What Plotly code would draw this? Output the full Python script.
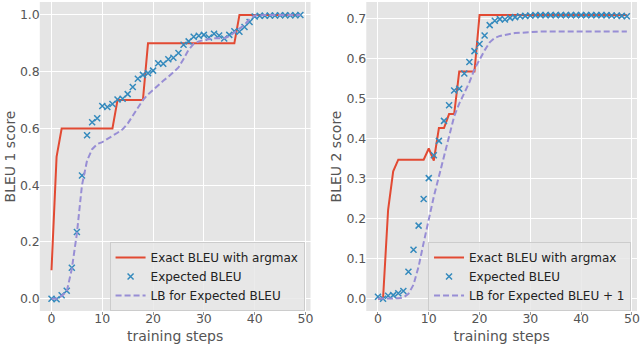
import plotly.graph_objects as go
from plotly.subplots import make_subplots

steps = list(range(50))

left_exact = [0.1, 0.5, 0.6, 0.6, 0.6, 0.6, 0.6, 0.6, 0.6, 0.6,
              0.6, 0.6, 0.6, 0.7, 0.7, 0.7, 0.7, 0.7, 0.7, 0.9,
              0.9, 0.9, 0.9, 0.9, 0.9, 0.9, 0.9, 0.9, 0.9, 0.9,
              0.9, 0.9, 0.9, 0.9, 0.9, 0.9, 0.9, 1.0, 1.0, 1.0,
              1.0, 1.0, 1.0, 1.0, 1.0, 1.0, 1.0, 1.0, 1.0, 1.0]
left_expected = [0.0, -0.002, 0.012, 0.028, 0.109, 0.235, 0.434, 0.576, 0.622, 0.636,
                 0.679, 0.676, 0.686, 0.702, 0.705, 0.721, 0.746, 0.775, 0.789, 0.795,
                 0.804, 0.830, 0.828, 0.844, 0.849, 0.866, 0.895, 0.907, 0.923, 0.927,
                 0.930, 0.921, 0.934, 0.928, 0.917, 0.930, 0.943, 0.941, 0.958, 0.975,
                 0.995, 0.997, 0.997, 0.998, 0.998, 0.999, 0.999, 0.999, 0.999, 1.0]
left_lb = [0.0, 0.0, 0.01, 0.025, 0.105, 0.23, 0.40, 0.487, 0.527, 0.545,
           0.552, 0.562, 0.573, 0.585, 0.597, 0.617, 0.645, 0.672, 0.700, 0.720,
           0.737, 0.752, 0.768, 0.782, 0.800, 0.815, 0.845, 0.878, 0.898, 0.907,
           0.912, 0.916, 0.918, 0.918, 0.918, 0.925, 0.940, 0.952, 0.965, 0.985,
           0.998, 1.0, 1.0, 1.0, 1.0, 1.0, 1.0, 1.0, 1.0, 1.0]

right_exact = [0.0, 0.0, 0.222, 0.318, 0.347, 0.347, 0.347, 0.347, 0.347, 0.347,
               0.375, 0.345, 0.426, 0.426, 0.461, 0.461, 0.567, 0.567, 0.567, 0.567,
               0.708, 0.708, 0.708, 0.708, 0.708, 0.708, 0.708, 0.708, 0.708, 0.708,
               0.708, 0.708, 0.708, 0.708, 0.708, 0.708, 0.708, 0.708, 0.708, 0.708,
               0.708, 0.708, 0.708, 0.708, 0.708, 0.708, 0.708, 0.708, 0.708, 0.708]
right_expected = [0.005, 0.0, 0.0075, 0.009, 0.0135, 0.019, 0.0675, 0.122, 0.1825, 0.249,
                  0.301, 0.358, 0.394, 0.444, 0.483, 0.520, 0.524, 0.562, 0.591, 0.618,
                  0.636, 0.657, 0.683, 0.694, 0.698, 0.697, 0.701, 0.703, 0.705, 0.706,
                  0.707, 0.708, 0.708, 0.708, 0.708, 0.708, 0.708, 0.708, 0.708, 0.708,
                  0.708, 0.708, 0.708, 0.708, 0.708, 0.708, 0.707, 0.707, 0.706, 0.705]
right_lb = [0.0, 0.0, 0.0, 0.0, 0.001, 0.003, 0.012, 0.035, 0.08, 0.14,
            0.2, 0.255, 0.305, 0.355, 0.41, 0.455, 0.487, 0.515, 0.54, 0.573,
            0.597, 0.62, 0.64, 0.651, 0.656, 0.659, 0.661, 0.663, 0.664, 0.665,
            0.666, 0.667, 0.667, 0.667, 0.667, 0.667, 0.667, 0.667, 0.667, 0.667,
            0.667, 0.667, 0.667, 0.667, 0.667, 0.667, 0.667, 0.667, 0.667, 0.667]

left_ticks_y = [0.0, 0.2, 0.4, 0.6, 0.8, 1.0]
right_ticks_y = [0.0, 0.1, 0.2, 0.3, 0.4, 0.5, 0.6, 0.7]
x_ticks = [0, 10, 20, 30, 40, 50]

RED = "#E24A33"
BLUE = "#348ABD"
PURPLE = "#988ED5"
FONT = "DejaVu Sans"

fig = make_subplots(rows=1, cols=2)

def add_series(col, exact, expected, lb, lb_name, legend):
    fig.add_trace(go.Scatter(x=steps, y=exact, mode="lines", name="Exact BLEU with argmax",
                             line=dict(color=RED, width=2), legend=legend), row=1, col=col)
    fig.add_trace(go.Scatter(x=steps, y=expected, mode="markers", name="Expected BLEU",
                             marker=dict(symbol="x-thin", size=6, color=BLUE,
                                         line=dict(color=BLUE, width=1.5)), legend=legend), row=1, col=col)
    fig.add_trace(go.Scatter(x=steps, y=lb, mode="lines", name=lb_name,
                             line=dict(color=PURPLE, width=2, dash="6px,3px"), legend=legend), row=1, col=col)

add_series(1, left_exact, left_expected, left_lb, "LB for Expected BLEU", "legend")
add_series(2, right_exact, right_expected, right_lb, "LB for Expected BLEU + 1", "legend2")

H = 346.0
ydom = [1 - 311 / H, 1 - 2 / H]
axis_common = dict(showgrid=True, gridcolor="white", gridwidth=1.2, zeroline=False,
                   showline=False, ticklabeloverflow="allow",
                   tickfont=dict(family=FONT, size=12.5, color="#555555"))
title_font = dict(family=FONT, size=14, color="#555555")

fig.update_xaxes(**axis_common, ticks="outside", ticklen=3, tickcolor="#999999",
                 tickvals=x_ticks, range=[-2.3, 51.0], ticklabelstandoff=-7,
                 title=dict(text="training steps", font=title_font, standoff=6))
fig.update_layout(
    xaxis=dict(domain=[40 / 640, 312 / 640]),
    xaxis2=dict(domain=[368 / 640, 1.0]),
    yaxis=dict(domain=ydom, range=[-0.0434, 1.0458], tickvals=left_ticks_y,
               tickformat=".1f", ticks="", ticklabelstandoff=-1, **axis_common,
               title=dict(text="BLEU 1 score", font=title_font, standoff=1)),
    yaxis2=dict(domain=ydom, range=[-0.0307, 0.7407], tickvals=right_ticks_y,
                tickformat=".1f", ticks="", ticklabelstandoff=-1, **axis_common,
                title=dict(text="BLEU 2 score", font=title_font, standoff=1)),
    plot_bgcolor="#E5E5E5",
    paper_bgcolor="white",
    width=640, height=346,
    margin=dict(l=0, r=0, t=0, b=0),
    font=dict(family=FONT),
    legend=dict(x=306 / 640, y=1 - 311 / H, xanchor="right", yanchor="bottom",
                bgcolor="rgba(232,232,232,0.85)", bordercolor="#CCCCCC", borderwidth=1,
                font=dict(family=FONT, size=12, color="#222222"), itemwidth=30,
                tracegroupgap=0),
    legend2=dict(x=634 / 640, y=1 - 311 / H, xanchor="right", yanchor="bottom",
                 bgcolor="rgba(232,232,232,0.85)", bordercolor="#CCCCCC", borderwidth=1,
                 font=dict(family=FONT, size=12, color="#222222"), itemwidth=30,
                 tracegroupgap=0),
    showlegend=True,
)

fig.write_html("out.html", config={"displayModeBar": False},
               post_script="document.body.style.margin='0';")
